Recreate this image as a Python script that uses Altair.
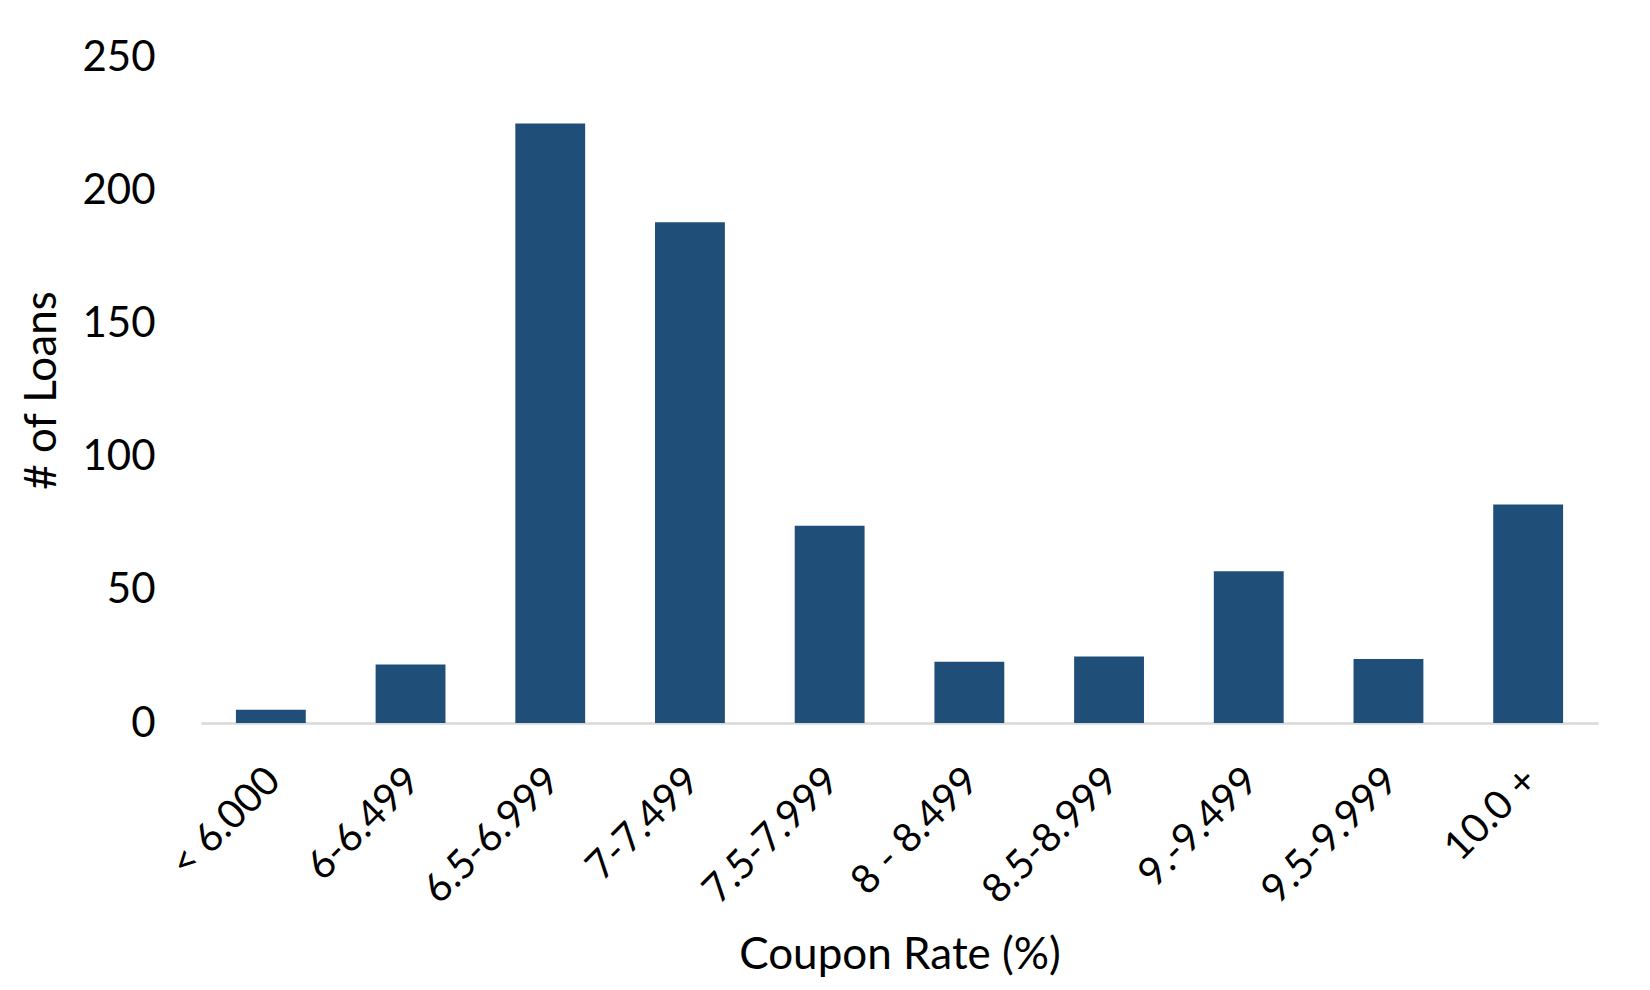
import altair as alt
import pandas as pd

categories = ["< 6.000", "6-6.499", "6.5-6.999", "7-7.499", "7.5-7.999",
              "8 - 8.499", "8.5-8.999", "9.-9.499", "9.5-9.999", "10.0 +"]
loans = [5, 22, 225, 188, 74, 23, 25, 57, 24, 82]
y_ticks = [0, 50, 100, 150, 200, 250]

df = pd.DataFrame({"rate": categories, "loans": loans})

FONT = "Lato"

chart = alt.Chart(df).mark_bar(color="#1f4e79").encode(
    x=alt.X("rate:N", sort=categories, title="Coupon Rate (%)",
            scale=alt.Scale(paddingInner=0.5, paddingOuter=0.25),
            axis=alt.Axis(labelAngle=-45, labelAlign="right", labelBaseline="top",
                          labelFontSize=40, labelPadding=37, labelOffset=-11,
                          labelLimit=0, ticks=False,
                          domainColor="#d9d9d9", domainWidth=2.5,
                          titleFontSize=44, titleFontWeight="normal",
                          titleBaseline="middle", titleY=232,
                          labelColor="black", titleColor="black", labelOverlap=False)),
    y=alt.Y("loans:Q", title="# of Loans",
            scale=alt.Scale(domain=[0, 250]),
            axis=alt.Axis(values=y_ticks, grid=False, domain=False,
                          ticks=False, labelFontSize=42, labelPadding=46,
                          titleFontSize=44, titleFontWeight="normal", titlePadding=17,
                          labelColor="black", titleColor="black")),
).properties(
    width=1397, height=666,
    autosize=alt.AutoSizeParams(type="none"),
    padding={"left": 193, "top": 49, "right": 40, "bottom": 264},
).configure(font=FONT).configure_view(strokeWidth=0)

chart.save("out.html", embed_options={"renderer": "svg", "actions": False})
